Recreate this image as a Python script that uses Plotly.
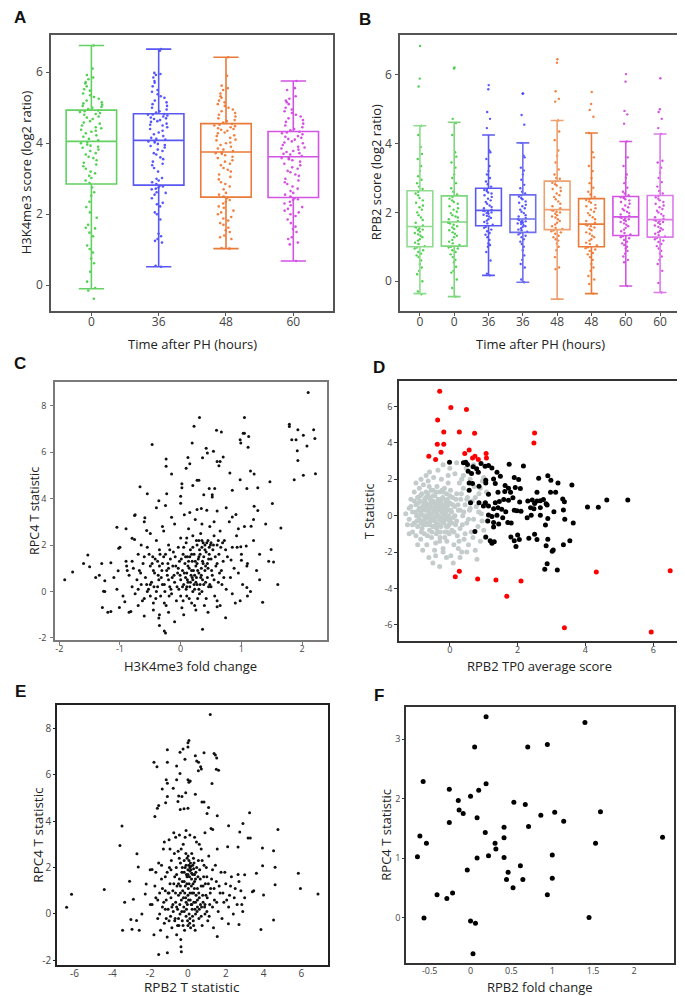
import plotly.graph_objects as go

# ---------------- Panel A data: H3K4me3 score by time ----------------
a_labels = ["0", "36", "48", "60"]
a_q1 = [2.85, 2.82, 2.48, 2.47]
a_median = [4.05, 4.08, 3.75, 3.62]
a_q3 = [4.93, 4.83, 4.55, 4.33]
a_low = [-0.1, 0.52, 1.03, 0.68]
a_high = [6.75, 6.65, 6.42, 5.75]
a_pts_0 = [-0.38, -0.15, -0.08, 0.1, 0.38, 0.62, 0.75, 0.92, 1.02, 1.12, 1.38, 1.48, 1.6, 1.62, 1.7, 1.9, 2.05, 2.2, 2.35, 2.52, 2.62, 2.75,
           2.88, 2.95, 3.02, 3.08, 3.15, 3.2, 3.28, 3.35, 3.4, 3.45, 3.52, 3.58, 3.62, 3.68, 3.72, 3.78, 3.82, 3.87, 3.9, 3.93, 3.96, 4.0, 4.03,
           4.08, 4.12, 4.18, 4.22, 4.28, 4.32, 4.35, 4.38, 4.42, 4.45, 4.5, 4.55, 4.58, 4.62, 4.68, 4.72, 4.75, 4.8, 4.82, 4.85, 4.88, 4.9, 4.92,
           4.96, 5.0, 5.02, 5.05, 5.08, 5.12, 5.15, 5.2, 5.25, 5.3, 5.35, 5.4, 5.48, 5.52, 5.6, 5.68, 5.72, 5.8, 5.85, 5.92, 6.1, 6.75]
a_pts_36 = [0.52, 0.55, 1.2, 1.25, 1.3, 1.38, 1.45, 1.85, 2.0, 2.05, 2.22, 2.28, 2.32, 2.45, 2.55, 2.6, 2.62, 2.7, 2.72, 2.75, 2.78, 2.8,
            2.85, 2.9, 2.95, 3.0, 3.02, 3.2, 3.3, 3.38, 3.42, 3.48, 3.55, 3.6, 3.68, 3.72, 3.78, 3.82, 3.88, 3.92, 3.95, 3.98, 4.02, 4.05, 4.06,
            4.1, 4.12, 4.15, 4.2, 4.25, 4.3, 4.35, 4.4, 4.45, 4.5, 4.52, 4.55, 4.6, 4.62, 4.65, 4.68, 4.7, 4.72, 4.75, 4.78, 4.8, 4.81, 4.82,
            4.86, 4.9, 4.95, 5.0, 5.05, 5.1, 5.15, 5.2, 5.28, 5.32, 5.38, 5.45, 5.5, 5.6, 5.7, 5.75, 5.85, 5.92, 5.95, 5.98, 6.6, 6.65]
a_pts_48 = [1.03, 1.05, 1.3, 1.35, 1.4, 1.5, 1.55, 1.62, 1.7, 1.75, 1.82, 1.88, 1.92, 2.0, 2.05, 2.1, 2.18, 2.22, 2.3, 2.35, 2.4, 2.45,
            2.5, 2.55, 2.6, 2.7, 2.78, 2.85, 2.9, 2.98, 3.05, 3.12, 3.2, 3.25, 3.3, 3.38, 3.42, 3.48, 3.52, 3.58, 3.62, 3.66, 3.7, 3.72, 3.74,
            3.78, 3.82, 3.85, 3.9, 3.95, 4.0, 4.02, 4.08, 4.1, 4.15, 4.2, 4.22, 4.28, 4.3, 4.35, 4.38, 4.4, 4.42, 4.45, 4.48, 4.5, 4.52, 4.54,
            4.58, 4.62, 4.65, 4.7, 4.75, 4.8, 4.85, 4.9, 4.95, 5.0, 5.05, 5.1, 5.15, 5.2, 5.28, 5.32, 5.4, 5.5, 5.55, 5.62, 5.9, 6.42]
a_pts_60 = [0.68, 1.15, 1.2, 1.3, 1.35, 1.5, 1.58, 1.65, 1.75, 1.85, 1.95, 2.0, 2.05, 2.1, 2.15, 2.2, 2.25, 2.3, 2.35, 2.4, 2.42, 2.45,
            2.5, 2.55, 2.6, 2.65, 2.72, 2.78, 2.85, 2.9, 2.95, 3.0, 3.08, 3.12, 3.18, 3.22, 3.28, 3.32, 3.38, 3.42, 3.48, 3.52, 3.55, 3.58, 3.6,
            3.64, 3.68, 3.7, 3.72, 3.75, 3.78, 3.82, 3.85, 3.88, 3.9, 3.95, 4.0, 4.02, 4.05, 4.1, 4.12, 4.15, 4.18, 4.2, 4.25, 4.28, 4.3, 4.32,
            4.36, 4.4, 4.45, 4.5, 4.55, 4.6, 4.65, 4.7, 4.75, 4.8, 4.85, 4.9, 4.95, 5.0, 5.1, 5.15, 5.2, 5.25, 5.32, 5.5, 5.55, 5.75]

# ---------------- Panel B data: RPB2 score by time (two replicates) ----------------
b_labels = ["0", "0", "36", "36", "48", "48", "60", "60"]
b_q1 = [1.0, 1.02, 1.61, 1.42, 1.5, 1.0, 1.33, 1.28]
b_median = [1.59, 1.72, 2.06, 1.81, 2.08, 1.66, 1.87, 1.79]
b_q3 = [2.63, 2.48, 2.7, 2.51, 2.91, 2.4, 2.46, 2.49]
b_low = [-0.36, -0.45, 0.17, -0.03, -0.52, -0.36, -0.14, -0.33]
b_high = [4.52, 4.62, 4.25, 4.02, 4.67, 4.31, 4.06, 4.28]
b_pts_1 = [-0.38, -0.3, 0.0, 0.2, 0.3, 0.4, 0.5, 0.6, 0.7, 0.75, 0.8, 0.85, 0.9, 0.95, 0.98,
           1.02, 1.08, 1.12, 1.18, 1.22, 1.28, 1.32, 1.36, 1.4, 1.44, 1.48, 1.5, 1.53, 1.56, 1.58,
           1.62, 1.7, 1.78, 1.85, 1.92, 2.0, 2.08, 2.15, 2.2, 2.28, 2.35, 2.42, 2.5, 2.55, 2.6,
           2.68, 2.75, 2.85, 2.95, 3.05, 3.2, 3.35, 3.55, 3.7, 3.9, 4.25, 4.52, 5.66, 5.89, 6.84]
b_pts_2 = [-0.45, -0.2, 0.05, 0.25, 0.3, 0.42, 0.55, 0.62, 0.7, 0.78, 0.85, 0.9, 0.95, 0.98, 1.0,
           1.05, 1.1, 1.15, 1.2, 1.28, 1.32, 1.38, 1.42, 1.48, 1.52, 1.56, 1.6, 1.64, 1.68, 1.7,
           1.75, 1.8, 1.85, 1.88, 1.92, 1.98, 2.02, 2.08, 2.12, 2.18, 2.25, 2.3, 2.35, 2.4, 2.45,
           2.52, 2.6, 2.7, 2.85, 3.0, 3.1, 3.3, 3.45, 3.62, 3.75, 4.25, 4.6, 4.72, 6.18, 6.21]
b_pts_3 = [0.17, 0.22, 0.6, 0.85, 1.0, 1.05, 1.1, 1.2, 1.28, 1.35, 1.4, 1.45, 1.5, 1.55, 1.58,
           1.64, 1.68, 1.72, 1.76, 1.8, 1.84, 1.88, 1.9, 1.93, 1.96, 1.98, 2.0, 2.02, 2.04, 2.05,
           2.08, 2.12, 2.16, 2.2, 2.25, 2.3, 2.35, 2.4, 2.45, 2.5, 2.55, 2.58, 2.62, 2.65, 2.68,
           2.75, 2.82, 2.9, 3.0, 3.1, 3.2, 3.35, 3.55, 3.75, 3.8, 4.45, 4.72, 4.92, 5.58, 5.7]
b_pts_4 = [-0.03, 0.05, 0.4, 0.5, 0.62, 0.75, 0.9, 1.0, 1.08, 1.15, 1.22, 1.28, 1.32, 1.36, 1.4,
           1.44, 1.48, 1.5, 1.54, 1.58, 1.6, 1.63, 1.66, 1.68, 1.7, 1.72, 1.74, 1.76, 1.78, 1.8,
           1.84, 1.88, 1.92, 1.98, 2.02, 2.08, 2.12, 2.18, 2.22, 2.28, 2.32, 2.38, 2.42, 2.46, 2.5,
           2.55, 2.6, 2.7, 2.8, 2.95, 3.1, 3.22, 3.3, 3.6, 3.65, 4.02, 4.55, 4.83, 5.45, 5.46]
b_pts_5 = [-0.52, 0.35, 0.4, 0.7, 0.9, 1.0, 1.1, 1.18, 1.22, 1.28, 1.32, 1.38, 1.42, 1.45, 1.48,
           1.52, 1.55, 1.6, 1.65, 1.7, 1.75, 1.8, 1.85, 1.88, 1.92, 1.96, 2.0, 2.02, 2.05, 2.06,
           2.12, 2.18, 2.25, 2.32, 2.38, 2.45, 2.5, 2.55, 2.62, 2.68, 2.72, 2.78, 2.82, 2.86, 2.9,
           2.98, 3.0, 3.1, 3.25, 3.45, 3.65, 3.8, 4.1, 4.35, 4.67, 5.22, 5.3, 5.52, 6.35, 6.45]
b_pts_6 = [-0.36, -0.08, 0.05, 0.15, 0.3, 0.4, 0.5, 0.62, 0.7, 0.78, 0.82, 0.88, 0.92, 0.96, 0.99,
           1.04, 1.08, 1.12, 1.18, 1.22, 1.28, 1.32, 1.38, 1.42, 1.48, 1.52, 1.56, 1.6, 1.62, 1.65,
           1.7, 1.75, 1.8, 1.86, 1.92, 1.98, 2.02, 2.08, 2.12, 2.18, 2.22, 2.28, 2.32, 2.36, 2.39,
           2.45, 2.52, 2.6, 2.72, 2.85, 3.0, 3.2, 3.35, 3.6, 3.75, 4.31, 4.78, 4.98, 5.15, 5.5]
b_pts_7 = [-0.14, 0.55, 0.62, 0.72, 0.8, 0.88, 0.95, 1.0, 1.05, 1.1, 1.15, 1.2, 1.25, 1.28, 1.31,
           1.36, 1.4, 1.45, 1.5, 1.55, 1.6, 1.64, 1.68, 1.72, 1.75, 1.78, 1.8, 1.82, 1.84, 1.86,
           1.9, 1.94, 1.98, 2.02, 2.06, 2.1, 2.15, 2.2, 2.25, 2.3, 2.35, 2.38, 2.42, 2.44, 2.45,
           2.5, 2.55, 2.6, 2.72, 2.85, 3.0, 3.1, 3.35, 3.6, 4.06, 4.58, 4.85, 4.95, 5.8, 6.02]
b_pts_8 = [-0.33, -0.05, 0.3, 0.5, 0.62, 0.72, 0.8, 0.88, 0.95, 1.02, 1.08, 1.14, 1.18, 1.22, 1.26,
           1.3, 1.34, 1.38, 1.42, 1.46, 1.5, 1.54, 1.58, 1.62, 1.66, 1.7, 1.72, 1.74, 1.76, 1.78,
           1.82, 1.86, 1.9, 1.95, 2.0, 2.05, 2.1, 2.15, 2.2, 2.25, 2.3, 2.35, 2.4, 2.44, 2.48,
           2.55, 2.62, 2.75, 2.88, 3.0, 3.15, 3.3, 3.45, 3.5, 4.28, 4.45, 4.72, 4.92, 5.0, 5.9]

# ---------------- Panel C data: H3K4me3 fold change vs RPC4 T statistic ----------------
c_pts = [
    (2.10, 8.57), (0.31, 7.49), (1.05, 7.49), (0.22, 7.11), (1.79, 7.20), (1.79, 7.10), (1.93, 6.96), (2.19, 6.96),
    (0.59, 6.94), (0.67, 6.87), (1.03, 6.81), (1.05, 6.81), (1.12, 6.67), (2.02, 6.73), (2.21, 6.59), (0.98, 6.53),
    (0.99, 6.39), (1.83, 6.53), (1.90, 6.53), (0.19, 6.39), (-0.47, 6.33), (1.11, 6.21), (2.08, 6.27), (0.42, 6.17),
    (1.92, 6.06), (0.44, 5.96), (0.54, 6.04), (0.12, 5.77), (-0.24, 5.70), (0.36, 5.76), (0.70, 5.79), (0.60, 5.60),
    (0.65, 5.60), (1.93, 5.64), (-0.24, 5.39), (0.63, 5.41), (0.15, 5.50), (0.09, 5.31), (-0.15, 5.06), (0.81, 5.10),
    (1.15, 5.19), (1.21, 5.06), (2.02, 5.00), (2.22, 5.07), (1.87, 4.81), (0.27, 4.79), (0.30, 4.79), (0.98, 4.81),
    (1.47, 4.73), (0.02, 4.64), (0.20, 4.56), (0.47, 4.43), (0.56, 4.43), (1.09, 4.43), (1.27, 4.47), (-0.67, 4.51),
    (0.85, 4.36), (0.52, 4.17), (0.02, 4.47), (-0.55, 4.21), (-0.23, 4.21), (0.38, 4.16), (0.52, 4.07), (0.0, 4.10),
    (-0.36, 3.91), (1.21, 3.67), (1.27, 3.49), (1.51, 3.79), (0.34, 3.57), (0.27, 3.53), (0.60, 3.46), (0.91, 3.31),
    (0.85, 3.21), (-0.76, 3.27), (-0.59, 3.17), (1.16, 2.81), (1.65, 2.73), (-1.05, 2.76), (-0.56, 2.63), (-0.76, 2.24),
    (-0.80, 2.29), (-1.02, 1.86), (0.93, 1.90), (0.99, 1.93), (-1.53, 1.57), (-1.50, 1.06), (-1.78, 0.84), (-1.91, 0.50),
    (-1.34, 0.70), (-1.15, 1.24), (-1.03, 0.89), (-0.89, 1.10), (-1.25, 0.46), (-1.27, 0.01), (-1.29, -0.69), (-1.15, -0.86),
    (-1.01, -0.69), (-0.92, -0.44), (-0.82, -0.86), (-0.60, -1.06), (-0.36, -1.14), (-0.35, -1.47), (-0.27, -1.70), (-0.25, -1.79),
    (0.36, -1.63), (0.60, -0.66), (0.74, -1.13), (0.98, -0.40), (1.09, 0.17), (1.35, -0.47), (1.49, 1.81), (1.53, 1.27),
    (1.09, 1.10), (1.0, 1.34), (0.83, 1.36), (1.08, 1.96),
    (-0.9, 1.3), (-0.85, 0.7), (-0.8, 0.2), (-0.78, 1.0), (-0.75, -0.1), (-0.72, 0.5), (-0.7, 1.6), (-0.68, 0.9),
    (-0.65, 0.3), (-0.62, 1.2), (-0.6, -0.3), (-0.58, 0.6), (-0.55, 1.9), (-0.53, 0.1), (-0.5, 1.1), (-0.48, 0.4),
    (-0.46, 1.5), (-0.45, -0.5), (-0.43, 0.8), (-0.4, 2.2), (-0.4, 0.0), (-0.38, 1.3), (-0.36, 0.5), (-0.35, 1.8),
    (-0.33, -0.2), (-0.31, 0.9), (-0.3, 1.2), (-0.28, 2.6), (-0.27, 0.3), (-0.25, 1.6), (-0.24, -0.6), (-0.22, 0.7),
    (-0.2, 1.0), (-0.2, 2.0), (-0.18, 0.2), (-0.17, 1.4), (-0.15, -0.1), (-0.14, 0.6), (-0.12, 1.7), (-0.1, 0.4),
    (-0.1, 2.9), (-0.08, 1.1), (-0.07, -0.4), (-0.05, 0.8), (-0.04, 1.9), (-0.03, 0.1), (-0.02, 1.3), (0.0, 0.5),
    (0.0, 2.3), (0.02, -0.7), (0.03, 0.9), (0.04, 1.6), (0.05, 0.3), (0.06, 3.3), (0.07, 1.2), (0.08, 0.6),
    (0.09, 2.1), (0.1, -0.2), (0.1, 0.8), (0.11, 1.5), (0.12, 0.4), (0.13, 2.7), (0.14, 1.0), (0.15, 0.2),
    (0.16, 1.8), (0.17, 0.7), (0.18, -0.5), (0.19, 1.3), (0.2, 0.5), (0.2, 2.4), (0.21, 0.9), (0.22, 1.6),
    (0.23, 0.1), (0.24, 3.1), (0.25, 1.1), (0.26, 0.6), (0.27, 2.0), (0.28, -0.3), (0.29, 1.4), (0.3, 0.8),
    (0.3, 2.2), (0.31, 1.8), (0.32, 0.3), (0.33, 2.5), (0.34, 1.0), (0.35, 1.9), (0.36, 0.5), (0.37, 2.1),
    (0.38, 1.5), (0.39, -0.6), (0.4, 2.0), (0.4, 0.9), (0.42, 1.7), (0.43, 3.5), (0.44, 1.2), (0.45, 2.2),
    (0.46, 0.2), (0.47, 1.9), (0.48, 2.8), (0.5, 1.4), (0.5, 2.1), (0.52, 0.7), (0.53, 1.8), (0.55, 2.4),
    (0.56, -0.2), (0.58, 1.1), (0.6, 2.0), (0.62, 0.4), (0.63, 1.6), (0.65, 2.6), (0.67, 0.9), (0.7, 1.3),
    (0.72, 2.2), (0.75, 0.1), (0.77, 1.5), (0.8, 3.0), (0.82, 0.6), (0.85, 1.9), (0.88, 1.0), (0.9, -0.5),
    (0.92, 2.4), (0.95, 0.8), (1.0, 1.6), (1.02, 0.3), (1.05, 2.8), (1.1, 1.2), (1.15, 0.0), (1.2, 2.2),
    (1.25, 0.9), (1.3, 1.6), (1.4, 2.9), (1.45, 1.3),
    (-1.6, 1.2), (-1.4, 0.6), (-1.3, 1.2), (-1.25, 0.0), (-1.2, -0.9), (-1.1, 0.6), (-1.05, 0.1), (-1.0, 1.9),
    (-0.95, -0.2), (-0.9, 2.7), (-0.88, 0.9), (-0.85, -0.9), (-0.8, 1.3), (-0.75, 3.3), (-0.7, -0.6), (-0.65, 2.0),
    (-0.6, 3.0), (-0.55, 0.0), (-0.5, 2.5), (-0.45, -0.8), (-0.4, 3.6), (-0.35, -1.0), (-0.3, 2.8), (-0.25, 3.7),
    (-0.2, -0.9), (-0.15, 3.2), (-0.1, -1.3), (0.0, 3.8), (0.05, -1.0), (0.15, 3.4), (0.25, -0.8), (0.35, 2.9),
    (0.45, -0.9), (0.55, 3.0), (0.65, -0.6), (0.75, 3.6), (0.85, -0.1), (0.95, 2.7), (1.1, -0.2), (1.2, 3.1),
    (1.3, 0.5), (1.6, 0.3),
    (0.05, 1.9), (0.1, 2.3), (0.12, 1.1), (0.15, 1.5), (0.18, 0.9), (0.2, 1.9), (0.22, 0.3), (0.24, 1.3),
    (0.26, 2.2), (0.28, 0.9), (0.3, 1.5), (0.33, 0.6), (0.35, 2.2), (0.37, 1.2), (0.4, 1.8), (0.41, 0.4),
    (0.43, 2.1), (0.45, 1.0), (0.47, 1.6), (0.49, 2.0), (0.51, 0.9), (0.54, 2.0), (0.57, 1.5), (0.6, 1.2),
    (0.62, 2.2), (0.64, 0.8), (0.66, 1.9), (0.69, 2.1), (0.71, 0.6), (0.74, 1.8),
    (-0.5, 0.3), (-0.45, 0.9), (-0.42, 1.4), (-0.38, 0.2), (-0.35, 1.1), (-0.32, 0.6), (-0.28, 1.5), (-0.26, 0.0),
    (-0.23, 0.9), (-0.2, 0.5), (-0.18, 1.8), (-0.16, 0.1), (-0.13, 1.1), (-0.11, 0.7), (-0.09, 1.5), (-0.06, 0.2),
    (-0.04, 1.0), (-0.01, 0.7), (0.01, 1.4), (0.03, 0.2), (0.06, 0.8), (0.08, 1.5), (0.09, 0.1), (0.11, 0.5),
    (0.13, 1.3), (0.16, 0.4), (0.18, 1.6), (0.2, 0.0), (0.23, 0.7), (0.25, 0.4), (0.27, 1.2), (0.3, 0.1),
    (0.32, 1.6), (0.34, 0.7), (0.36, 1.3), (0.38, 0.3), (0.41, 1.1), (0.44, 0.6), (0.46, 1.4), (0.48, 0.3),
    (-0.7, 0.1), (-0.66, 0.8), (-0.63, -0.4), (-0.6, 1.5), (-0.56, 0.3), (-0.52, 1.6), (-0.5, -0.2), (-0.47, 1.2),
    (-0.44, 0.2), (-0.41, -0.3), (-0.37, 0.7), (-0.34, 1.6), (-0.3, 0.3), (-0.27, -0.5), (-0.21, 1.2), (-0.19, -0.2),
    (0.0, -0.2), (0.04, -0.4), (0.1, 0.2), (0.14, -0.3), (0.19, 0.6), (0.23, -0.6), (0.27, 0.3), (0.31, -0.1),
    (0.35, 0.0), (0.42, -0.3), (0.5, 0.2), (0.55, 0.5), (0.6, -0.4), (0.68, 0.3),
]

# ---------------- Panel D data: RPB2 TP0 average score vs T statistic ----------------
d_red = [
    (-0.30, 6.83), (0.03, 5.94), (0.49, 5.83), (-0.36, 5.26), (-0.18, 4.59), (0.28, 4.59), (0.73, 4.52), (2.50, 4.54),
    (2.48, 3.99), (-0.37, 3.92), (-0.18, 3.92), (-0.26, 3.48), (0.57, 3.61), (0.44, 3.41), (-0.62, 3.26), (-0.42, 3.08),
    (0.67, 3.17), (0.74, 3.26), (0.84, 3.08), (1.07, 3.41), (1.08, 3.17), (0.28, -3.06), (0.16, -3.35), (0.82, -3.48),
    (1.36, -3.53), (2.10, -3.59), (1.68, -4.43), (4.32, -3.10), (6.50, -3.02), (3.38, -6.16), (5.94, -6.39),
]
d_black = [
    (-0.01, 2.93), (0.40, 2.90), (0.47, 2.93), (0.52, 2.81), (0.69, 2.68), (0.79, 2.57), (0.92, 2.86), (1.04, 2.71),
    (1.14, 2.75), (1.24, 2.62), (1.39, 2.39), (1.75, 2.82), (2.17, 2.73), (0.54, 2.44), (0.64, 2.31), (0.84, 2.39),
    (1.06, 1.95), (1.29, 2.02), (1.49, 2.17), (1.90, 2.09), (2.03, 1.99), (2.62, 2.06), (2.89, 2.19), (2.98, 1.95),
    (3.19, 1.80), (3.60, 1.69), (0.57, 1.80), (0.67, 1.77), (0.86, 1.62), (1.06, 1.80), (1.34, 1.77), (1.63, 1.66),
    (1.73, 1.51), (1.93, 1.55), (2.08, 1.49), (0.57, 1.40), (1.14, 1.17), (1.42, 1.29), (1.62, 1.33), (1.79, 1.29),
    (1.86, 0.98), (2.57, 1.28), (2.97, 1.29), (3.12, 1.28), (0.99, 0.53), (1.05, 0.71), (1.34, 0.71), (1.46, 0.78),
    (1.59, 0.89), (1.73, 0.84), (2.06, 0.75), (2.30, 0.80), (2.43, 0.86), (2.50, 0.67), (2.57, 0.80), (2.67, 0.82),
    (2.76, 0.89), (2.84, 0.66), (3.33, 0.91), (3.38, 0.77), (4.06, 0.47), (4.38, 0.46), (4.63, 0.86), (5.25, 0.86),
    (0.61, 0.71), (0.86, 0.71), (1.14, 0.53), (1.29, 0.38), (1.42, 0.44), (1.53, 0.35), (1.65, 0.22), (1.90, 0.29),
    (1.98, 0.27), (2.10, 0.24), (2.38, 0.44), (2.48, 0.38), (2.67, 0.44), (2.87, 0.58), (3.07, 0.22), (3.35, 0.31),
    (1.14, 0.04), (1.24, -0.05), (1.39, 0.02), (1.56, -0.11), (2.28, -0.11), (2.40, 0.02), (2.67, 0.02), (2.89, -0.15),
    (3.39, -0.20), (3.64, -0.40), (1.12, -0.29), (1.29, -0.38), (1.44, -0.46), (1.71, -0.38), (1.81, -0.40), (2.82, -0.51),
    (0.74, -0.87), (1.29, -0.62), (1.06, -1.17), (1.19, -1.38), (1.24, -1.51), (1.31, -1.44), (1.80, -1.17), (1.90, -1.38),
    (1.95, -1.69), (2.05, -1.31), (2.00, -1.06), (2.33, -1.24), (2.50, -1.02), (2.57, -1.31), (2.84, -1.66), (2.89, -1.29),
    (3.02, -1.95), (3.05, -1.88), (3.35, -1.60), (3.54, -1.38), (2.87, -2.64), (2.80, -2.95), (3.17, -2.99),
]
d_grey = [
    (-1.3, 0.1), (-1.25, -0.5), (-1.2, 0.4), (-1.2, -0.2), (-1.15, 0.9), (-1.1, -0.9), (-1.1, 0.2), (-1.05, 1.3),
    (-1.05, -0.4), (-1.0, 0.6), (-1.0, -1.1), (-0.98, 0.0), (-0.95, 1.0), (-0.95, -0.6), (-0.92, 0.3), (-0.9, 1.5),
    (-0.9, -0.2), (-0.88, 0.8), (-0.86, -1.3), (-0.85, 0.1), (-0.83, 1.2), (-0.82, -0.7), (-0.8, 0.5), (-0.8, -0.3),
    (-0.78, 1.7), (-0.76, 0.0), (-0.75, -1.0), (-0.74, 0.9), (-0.72, 0.3), (-0.7, -0.5), (-0.7, 1.3), (-0.68, -1.6),
    (-0.67, 0.6), (-0.65, -0.1), (-0.64, 1.9), (-0.62, 0.2), (-0.6, -0.8), (-0.6, 1.0), (-0.58, 0.5), (-0.57, -0.3),
    (-0.55, 1.4), (-0.54, -1.2), (-0.52, 0.1), (-0.5, 0.8), (-0.5, -0.6), (-0.48, 2.1), (-0.47, 0.3), (-0.45, -0.1),
    (-0.44, 1.1), (-0.42, -1.5), (-0.41, 0.6), (-0.4, -0.4), (-0.38, 1.6), (-0.37, 0.0), (-0.35, -0.9), (-0.34, 0.9),
    (-0.32, 0.4), (-0.31, -0.2), (-0.3, 1.3), (-0.29, -1.2), (-0.27, 0.7), (-0.26, -0.6), (-0.25, 2.0), (-0.24, 0.2),
    (-0.22, -0.1), (-0.21, 1.0), (-0.2, -1.8), (-0.19, 0.5), (-0.18, -0.4), (-0.16, 1.5), (-0.15, 0.1), (-0.14, -0.9),
    (-0.12, 0.8), (-0.11, -0.2), (-0.1, 1.2), (-0.09, -1.4), (-0.08, 0.4), (-0.06, -0.6), (-0.05, 1.8), (-0.04, 0.0),
    (-0.02, -1.0), (0.0, 0.7), (0.0, -0.3), (0.02, 1.4), (0.03, -2.2), (0.05, 0.2), (0.06, -0.8), (0.08, 1.0),
    (0.1, -0.1), (0.12, -1.6), (0.14, 0.5), (0.15, 2.3), (0.17, -0.5), (0.2, 1.2), (0.22, -1.1), (0.25, 0.3),
    (0.28, 1.8), (0.3, -0.7), (0.32, 0.9), (0.35, -2.0), (0.38, 0.0), (0.4, 1.5), (0.42, -1.3), (0.45, 0.6),
    (0.48, 2.6), (0.5, -0.4), (0.52, 1.0), (0.55, -1.6), (0.58, 0.3), (0.6, 2.0), (0.63, -0.9), (0.66, 0.8),
    (0.7, -0.2), (0.72, 1.6), (0.75, -1.9), (0.78, 0.5), (0.8, 2.4), (0.83, -0.6), (0.86, 1.2), (0.9, -1.4),
    (0.93, 0.1), (0.96, 1.9), (1.0, -0.8), (1.02, 0.7), (1.05, -1.2), (1.08, 1.3), (1.1, -0.3),
    (-1.2, -1.0), (-1.0, 1.8), (-0.95, -1.6), (-0.85, 2.0), (-0.8, -1.9), (-0.7, 2.2), (-0.62, -2.3), (-0.5, -2.6),
    (-0.42, -2.2), (-0.35, 2.5), (-0.3, -2.8), (-0.2, 2.8), (-0.1, -2.3), (0.0, 2.6), (0.1, -2.6), (0.2, 2.9),
    (0.3, -2.3), (0.4, 2.2), (0.5, -2.0), (0.7, 2.8), (0.8, -2.4), (0.65, 2.7), (0.9, 1.5), (1.0, 2.1),
    (-0.75, 0.4), (-0.66, -0.4), (-0.58, 0.9), (-0.52, -0.2), (-0.46, 0.7), (-0.4, 0.2), (-0.33, -0.5), (-0.28, 0.4),
    (-0.23, 1.4), (-0.17, -0.3), (-0.13, 0.2), (-0.07, 0.9), (-0.03, -0.5), (-0.6, 0.0), (-0.55, 0.4), (-0.45, -0.3),
    (-0.35, 0.3), (-0.25, -0.3), (-0.15, 0.6), (-0.05, 0.3), (-0.85, -0.4), (-0.65, 1.2), (-0.5, 1.4), (-0.4, -1.0),
    (-0.3, -1.4), (-0.2, 0.3), (-0.1, -0.6), (-0.7, 0.7), (-0.9, 0.4),
    (-1.15, 0.5), (-1.1, -0.5), (-1.05, 0.8), (-1.0, 0.2), (-0.97, -0.3), (-0.93, 0.7), (-0.9, 0.0), (-0.87, 1.1),
    (-0.84, -0.9), (-0.82, 0.3), (-0.79, -0.5), (-0.77, 0.7), (-0.73, -0.2), (-0.71, 1.0), (-0.69, 0.0), (-0.66, -1.1),
    (-0.63, 0.4), (-0.61, 1.6), (-0.59, -0.5), (-0.56, 0.7), (-0.53, -0.9), (-0.51, 0.4), (-0.49, 1.1), (-0.46, -0.6),
    (-0.43, 0.5), (-0.4, 1.3), (-0.39, -0.7), (-0.36, 0.8), (-0.33, 0.0), (-0.3, 0.6), (-0.28, -0.9), (-0.25, 0.9),
    (-0.23, -0.3), (-0.2, 1.3), (-0.18, 0.0), (-0.15, -1.2), (-0.13, 0.5), (-0.1, 0.0), (-0.08, -0.9), (-0.05, 0.6),
    (-0.03, -0.2), (0.0, 1.1), (0.03, 0.3), (0.06, -0.4), (0.09, 0.6), (0.12, -0.9), (0.15, 0.0), (0.18, 0.9),
    (0.2, -0.3), (0.24, 0.6), (0.27, -1.4), (0.3, 0.3), (0.34, 1.2), (0.37, -0.5), (0.41, 0.2), (0.45, -1.0),
    (0.5, 0.9), (0.55, -0.2), (0.6, 0.4), (0.68, -1.2), (0.75, 1.0), (0.85, 0.2), (0.95, -0.3), (-0.6, 2.4),
    (-0.45, -1.9), (-0.2, -2.0), (0.25, -1.8), (-0.05, 2.2), (0.35, 2.0),
]

# ---------------- Panel E data: RPB2 T statistic vs RPC4 T statistic ----------------
e_pts = [
    (1.18, 8.60), (0.05, 7.48), (0.0, 7.38), (0.0, 7.20), (-1.09, 7.08), (-0.26, 7.11), (-0.42, 6.97), (0.85, 6.95),
    (1.38, 6.92), (1.45, 6.85), (0.39, 6.82), (-0.16, 6.67), (1.52, 6.72), (-1.8, 6.54), (-1.64, 6.34), (-1.09, 6.54),
    (0.46, 6.59), (0.56, 6.54), (0.67, 6.34), (-0.6, 6.38), (0.71, 6.25), (1.5, 6.24), (1.62, 6.19), (0.55, 6.17),
    (-0.42, 6.05), (-0.6, 5.79), (-1.15, 5.79), (0.0, 5.78), (0.12, 5.73), (0.05, 5.68), (-1.09, 5.63), (1.27, 5.62),
    (-0.78, 5.42), (-1.36, 5.39), (-0.12, 5.22), (0.39, 5.16), (-1.09, 5.06), (-0.49, 5.08), (-0.32, 5.06), (-0.53, 4.85),
    (0.74, 4.82), (0.85, 4.82), (-1.18, 4.79), (-1.55, 4.67), (-1.62, 4.56), (-0.41, 4.50), (-0.21, 4.53), (0.0, 4.56),
    (1.09, 4.59), (1.01, 4.33), (-1.75, 4.20), (1.55, 4.23), (3.26, 4.36), (-3.49, 3.79), (2.15, 3.80), (2.91, 3.90),
    (4.76, 3.64), (1.22, 3.68), (1.31, 3.64), (-3.6, 2.95), (-2.7, 2.59), (-2.63, 2.02), (-1.9, 1.91), (-4.43, 1.05),
    (-6.16, 0.85), (-6.42, 0.29), (-3.35, 0.5), (-3.46, -0.70), (-3.02, -0.24), (-2.96, -0.66), (-2.72, -0.29), (-2.58, -0.70),
    (-2.44, 0.0), (-3.09, 1.41), (-2.89, 0.63), (-2.26, 0.86), (-2.21, 1.29), (-1.99, 0.4), (-1.55, -1.75), (-1.09, -1.68),
    (-0.37, -1.42), (-0.35, -1.63), (1.55, -0.97), (2.7, -0.46), (2.14, -0.43), (3.86, -0.67), (4.53, -0.26), (4.53, 2.72),
    (4.61, 2.01), (4.61, 1.26), (5.84, 1.75), (5.95, 1.09), (6.88, 0.86), (3.95, 2.08), (4.0, 0.82), (3.62, 1.75),
    (3.48, 1.0), (3.41, 0.95), (3.94, 2.84), (3.30, 3.27), (3.18, 3.27), (2.74, 3.53), (2.65, 2.88), (3.0, 1.69),
    (-2.0, 1.9), (-1.9, 0.4), (-1.8, -0.9), (-1.75, 1.2), (-1.7, 0.7), (-1.6, -0.2), (-1.55, 2.2), (-1.5, 0.9),
    (-1.5, 0.0), (-1.45, -0.7), (-1.4, 1.5), (-1.35, 0.3), (-1.3, 2.8), (-1.25, -0.4), (-1.2, 1.0), (-1.15, 0.6),
    (-1.1, -1.0), (-1.1, 1.8), (-1.05, 0.2), (-1.0, 3.2), (-1.0, -0.3), (-0.95, 1.3), (-0.9, 0.7), (-0.88, 2.3),
    (-0.85, -0.6), (-0.8, 1.0), (-0.78, 0.1), (-0.75, 3.5), (-0.7, 1.6), (-0.68, -0.2), (-0.65, 0.5), (-0.62, 2.0),
    (-0.6, -0.9), (-0.58, 1.2), (-0.55, 0.2), (-0.52, 2.7), (-0.5, 0.8), (-0.48, -0.5), (-0.45, 1.5), (-0.42, 0.0),
    (-0.4, 2.2), (-0.38, -1.1), (-0.35, 0.6), (-0.32, 1.8), (-0.3, -0.3), (-0.28, 1.0), (-0.25, 3.0), (-0.22, 0.3),
    (-0.2, 1.4), (-0.18, -0.7), (-0.15, 2.0), (-0.12, 0.7), (-0.1, -0.1), (-0.08, 1.7), (-0.05, 2.4), (-0.03, 0.4),
    (0.0, 1.9), (0.0, -0.5), (0.02, 1.1), (0.04, 2.1), (0.06, 0.0), (0.08, 1.6), (0.1, 2.0), (0.12, 0.6),
    (0.14, -0.6), (0.16, 1.9), (0.18, 1.2), (0.2, 2.6), (0.22, 0.2), (0.25, 1.7), (0.28, -0.3), (0.3, 0.9),
    (0.32, 2.2), (0.35, 1.4), (0.38, -0.7), (0.4, 0.5), (0.42, 1.8), (0.45, 3.1), (0.48, 0.1), (0.5, 1.1),
    (0.55, 2.3), (0.58, -0.2), (0.6, 0.7), (0.65, 1.5), (0.7, 2.8), (0.72, 0.3), (0.75, -0.5), (0.8, 1.2),
    (0.85, 2.1), (0.9, 0.0), (0.95, 0.8), (1.0, 1.6), (1.05, -0.3), (1.1, 2.5), (1.15, 0.4), (1.2, 1.1),
    (1.3, 1.9), (1.35, -0.6), (1.4, 0.6), (1.5, 1.4), (1.55, 2.8), (1.6, 0.1), (1.7, 0.9), (1.75, 1.8),
    (1.8, -0.2), (1.9, 0.5), (2.0, 1.3), (2.1, 2.9), (2.15, 0.3), (2.2, 0.8), (2.3, 1.6), (2.4, 0.0),
    (2.5, 1.1), (2.6, 0.4), (2.7, 1.4), (2.8, 1.0), (2.9, 0.1), (3.0, 0.7),
    (-0.3, 2.0), (-0.2, 1.8), (-0.1, 2.1), (0.0, 1.7), (0.1, 1.85), (0.15, 2.05), (0.2, 1.75), (0.25, 2.1),
    (0.3, 1.95), (0.05, 2.3), (-0.05, 1.6), (0.35, 1.7),
    (-0.6, 0.3), (-0.4, 0.9), (-0.2, 0.1), (0.0, 0.8), (0.2, 0.4), (0.4, 0.0), (0.6, 0.2), (0.8, 0.5),
    (1.0, 0.1), (-0.8, 0.4), (-1.0, 0.9), (-1.2, 0.2), (0.3, -0.5), (0.1, -0.2), (-0.1, 0.5), (0.5, 0.6),
    (0.7, -0.1), (0.9, 0.4), (-0.5, -0.2), (-0.7, -0.3),
    (-0.9, 1.9), (-0.85, 0.3), (-0.75, 1.3), (-0.72, 2.6), (-0.66, 0.9), (-0.6, 1.7), (-0.55, -0.5), (-0.5, 1.3),
    (-0.46, 2.4), (-0.43, 0.4), (-0.4, 1.2), (-0.36, 2.8), (-0.33, 0.1), (-0.3, 1.4), (-0.26, -0.5), (-0.24, 0.7),
    (-0.2, 2.3), (-0.17, 0.9), (-0.14, 1.2), (-0.11, 2.6), (-0.08, 0.2), (-0.06, 1.3), (-0.02, -0.3), (0.01, 2.5),
    (0.03, 0.6), (0.06, 1.3), (0.09, -0.4), (0.11, 0.9), (0.13, 2.2), (0.17, 0.4), (0.19, 1.5), (0.22, 0.9),
    (0.24, -0.1), (0.27, 1.3), (0.29, 2.4), (0.31, 0.5), (0.34, 1.1), (0.37, 0.2), (0.4, 1.5), (0.43, 0.8),
    (0.46, 2.0), (0.5, 0.3), (0.53, 1.6), (0.57, 0.9), (0.62, 1.9), (0.66, 0.4), (0.7, 1.2), (0.75, 2.3),
    (0.78, 0.8), (0.83, 1.6), (0.88, 0.3), (0.92, 1.3), (0.97, 2.0), (1.02, 0.7), (1.08, 1.3), (1.12, -0.1),
    (1.18, 0.9), (1.25, 1.5), (1.3, 0.3), (1.38, 1.1), (1.45, 2.1), (1.52, 0.5), (1.65, 1.2), (1.85, 0.9),
    (1.95, 1.8), (2.05, 0.6), (2.25, 1.2), (2.45, 0.7), (2.65, 1.7), (2.85, 0.4),
    (-1.35, 1.1), (-1.28, 0.5), (-1.2, 1.6), (-1.15, -0.2), (-1.05, 0.9), (-0.98, 2.0), (-0.92, -0.1), (-1.6, 0.6),
    (-1.7, 1.8), (-1.4, 2.1), (-1.25, 3.1), (-0.95, 2.8), (-0.65, 3.3), (-0.45, 3.4), (-0.15, 3.3), (0.1, 3.4),
    (0.35, 3.3), (0.6, 3.0), (0.9, 3.5), (-0.1, 3.6),
]

# ---------------- Panel F data: RPB2 fold change vs RPC4 T statistic ----------------
f_pts = [
    (0.19, 3.38), (1.40, 3.28), (0.05, 2.87), (0.70, 2.87), (0.94, 2.91), (-0.58, 2.29), (0.19, 2.25), (-0.26, 2.16),
    (0.10, 2.14), (0.0, 2.04), (-0.15, 1.97), (0.53, 1.94), (0.67, 1.90), (-0.14, 1.81), (-0.09, 1.75), (1.59, 1.78),
    (1.03, 1.77), (0.86, 1.72), (0.08, 1.68), (1.14, 1.62), (-0.26, 1.60), (0.71, 1.53), (0.41, 1.52), (0.18, 1.43),
    (-0.62, 1.37), (2.35, 1.35), (0.41, 1.34), (-0.54, 1.25), (0.30, 1.25), (1.53, 1.25), (0.31, 1.15), (-0.65, 1.02),
    (0.08, 1.0), (0.22, 1.04), (0.41, 1.01), (1.0, 1.05), (0.61, 0.87), (-0.04, 0.80), (0.46, 0.76), (0.44, 0.64),
    (0.64, 0.64), (1.0, 0.66), (0.52, 0.50), (-0.41, 0.38), (0.94, 0.38), (-0.22, 0.41), (-0.29, 0.32), (-0.57, -0.01),
    (1.45, 0.0), (0.0, -0.06), (0.06, -0.10), (0.03, -0.61),
]

# ---------------- Styling ----------------
W, H = 685, 996
FONT = "Open Sans"
TICKC = "#444444"
TITLEC = "#222222"
green_pt, blue_pt, orange_pt, mag_pt = "#33c933", "#3a3aff", "#ef6b1e", "#cc33dd"
green_ln, blue_ln, orange_ln, mag_ln = "#62d162", "#5858f2", "#ea7a38", "#d253e4"


def px_dom_x(a, b):
    return [a / W, b / W]


def px_dom_y(top, bottom):
    return [1 - bottom / H, 1 - top / H]


def fmt(v):
    return "%g" % v


fig = go.Figure()

# ---- Panel A ----
a_pts = [a_pts_0, a_pts_36, a_pts_48, a_pts_60]
a_pcol = [green_pt, blue_pt, orange_pt, mag_pt]
a_lcol = [green_ln, blue_ln, orange_ln, mag_ln]
for i in range(4):
    fig.add_trace(go.Box(y=a_pts[i], x0=i, boxpoints="all", jitter=0.5, pointpos=0, width=0.75,
                         line=dict(width=0), fillcolor="rgba(0,0,0,0)",
                         marker=dict(size=2.6, color=a_pcol[i], opacity=0.85),
                         xaxis="x", yaxis="y", showlegend=False, hoverinfo="y"))
    fig.add_trace(go.Box(x=[i], q1=[a_q1[i]], median=[a_median[i]], q3=[a_q3[i]],
                         lowerfence=[a_low[i]], upperfence=[a_high[i]], width=0.75, boxpoints=False,
                         line=dict(color=a_lcol[i], width=1.6), fillcolor="rgba(0,0,0,0)",
                         xaxis="x", yaxis="y", showlegend=False))

# ---- Panel B ----
b_pts = [b_pts_1, b_pts_2, b_pts_3, b_pts_4, b_pts_5, b_pts_6, b_pts_7, b_pts_8]
b_pcol = [green_pt, green_pt, blue_pt, blue_pt, orange_pt, orange_pt, mag_pt, mag_pt]
b_lcol = ["#8edc8e", "#7ed67e", blue_ln, "#6e6ef0", "#eea070", orange_ln, mag_ln, "#dc7ae8"]
for i in range(8):
    fig.add_trace(go.Box(y=b_pts[i], x0=i, boxpoints="all", jitter=0.5, pointpos=0, width=0.75,
                         line=dict(width=0), fillcolor="rgba(0,0,0,0)",
                         marker=dict(size=2.4, color=b_pcol[i], opacity=0.85),
                         xaxis="x2", yaxis="y2", showlegend=False, hoverinfo="y"))
    fig.add_trace(go.Box(x=[i], q1=[b_q1[i]], median=[b_median[i]], q3=[b_q3[i]],
                         lowerfence=[b_low[i]], upperfence=[b_high[i]], width=0.75, boxpoints=False,
                         line=dict(color=b_lcol[i], width=1.6), fillcolor="rgba(0,0,0,0)",
                         xaxis="x2", yaxis="y2", showlegend=False))

# ---- Panel C ----
fig.add_trace(go.Scatter(x=[p[0] for p in c_pts], y=[p[1] for p in c_pts], mode="markers",
                         marker=dict(size=3, color="#111111"), xaxis="x3", yaxis="y3", showlegend=False))

# ---- Panel D ----
fig.add_trace(go.Scatter(x=[p[0] for p in d_grey], y=[p[1] for p in d_grey], mode="markers",
                         marker=dict(size=5, color="#c3cbcb"), xaxis="x4", yaxis="y4", showlegend=False))
fig.add_trace(go.Scatter(x=[p[0] for p in d_black], y=[p[1] for p in d_black], mode="markers",
                         marker=dict(size=5, color="#000000"), xaxis="x4", yaxis="y4", showlegend=False))
fig.add_trace(go.Scatter(x=[p[0] for p in d_red], y=[p[1] for p in d_red], mode="markers",
                         marker=dict(size=5, color="#ff0000"), xaxis="x4", yaxis="y4", showlegend=False))

# ---- Panel E ----
fig.add_trace(go.Scatter(x=[p[0] for p in e_pts], y=[p[1] for p in e_pts], mode="markers",
                         marker=dict(size=3, color="#111111"), xaxis="x5", yaxis="y5", showlegend=False))

# ---- Panel F ----
fig.add_trace(go.Scatter(x=[p[0] for p in f_pts], y=[p[1] for p in f_pts], mode="markers",
                         marker=dict(size=5, color="#000000"), xaxis="x6", yaxis="y6", showlegend=False))


def axis(domain, rng, tickvals, ticktext=None, tsize=10, linecolor="#444444", anchor=None, ticklen=3, standoff=0):
    return dict(domain=domain, range=rng, showline=True, mirror=True, linecolor=linecolor, linewidth=1.5,
                ticks="outside" if ticklen > 0 else "", ticklen=max(ticklen, 1), tickwidth=1, tickcolor=linecolor,
                showgrid=False, zeroline=False,
                tickvals=tickvals, ticktext=ticktext if ticktext is not None else [fmt(v) for v in tickvals],
                tickfont=dict(family=FONT, size=tsize, color=TICKC), anchor=anchor, fixedrange=True,
                ticklabelstandoff=standoff)


layout = dict(
    width=W, height=H, margin=dict(l=0, r=0, t=0, b=0), paper_bgcolor="white", plot_bgcolor="white",
    boxmode="overlay", showlegend=False,
    # A
    xaxis=axis(px_dom_x(43, 325), [-0.6, 3.59], [0, 1, 2, 3], a_labels, 12, "#555555", "y", 3, -4),
    yaxis=axis(px_dom_y(27, 304), [-0.72, 7.05], [0, 2, 4, 6], None, 12, "#555555", "x", 3, 1),
    # B
    xaxis2=axis(px_dom_x(392, 672), [-0.58, 7.58], list(range(8)), b_labels, 12, "#555555", "y2", 3, -4),
    yaxis2=axis(px_dom_y(27, 304), [-0.86, 7.16], [0, 2, 4, 6], None, 12, "#555555", "x2", 3, 1),
    # C
    xaxis3=axis(px_dom_x(47, 319), [-2.07, 2.41], [-2, -1, 0, 1, 2], None, 9, "#7a7a7a", "y3", 3, -4),
    yaxis3=axis(px_dom_y(376, 635), [-2.11, 9.0], [-2, 0, 2, 4, 6, 8], None, 9, "#7a7a7a", "x3", 3, 2),
    # D
    xaxis4=axis(px_dom_x(391, 671), [-1.5, 6.76], [0, 2, 4, 6], None, 9, "#333333", "y4", 3, -4),
    yaxis4=axis(px_dom_y(375, 636), [-6.91, 7.37], [-6, -4, -2, 0, 2, 4, 6], None, 9, "#333333", "x4", 3, 0),
    # E
    xaxis5=axis(px_dom_x(49, 320), [-6.93, 7.41], [-6, -4, -2, 0, 2, 4, 6], None, 10, "#222222", "y5", 0, -2),
    yaxis5=axis(px_dom_y(700, 961), [-2.21, 9.0], [-2, 0, 2, 4, 6, 8], None, 10, "#222222", "x5", 2, 0),
    # F
    xaxis6=axis(px_dom_x(398, 666), [-0.79, 2.49], [-0.5, 0, 0.5, 1, 1.5, 2], None, 9, "#333333", "y6", 0, -2),
    yaxis6=axis(px_dom_y(702, 959), [-0.77, 3.54], [0, 1, 2, 3], None, 9, "#333333", "x6", 2, 0),
)
fig.update_layout(**layout)

# axis titles (text, centre x px, centre y px, rotation, size)
axis_titles = [
    ("Time after PH (hours)", 184, 337, 0, 13),
    ("H3K4me3 score (log2 ratio)", 18, 165, -90, 13),
    ("Time after PH (hours)", 532, 337, 0, 13),
    ("RPB2 score (log2 ratio)", 368, 165, -90, 13),
    ("H3K4me3 fold change", 183, 661, 0, 13),
    ("RPC4 T statistic", 27, 505, -90, 12.5),
    ("RPB2 TP0 average score", 531, 661, 0, 13),
    ("T Statistic", 362, 505, -90, 12.5),
    ("RPB2 T statistic", 184, 983, 0, 13.5),
    ("RPC4 T statistic", 30, 830, -90, 13.5),
    ("RPB2 fold change", 532, 983, 0, 13),
    ("RPC4 T statistic", 378, 830, -90, 13),
]
for text, tx, ty, rot, size in axis_titles:
    fig.add_annotation(text=text, x=tx / W, y=1 - ty / H, xref="paper", yref="paper",
                       xanchor="center", yanchor="middle", showarrow=False, textangle=rot,
                       font=dict(family=FONT, size=size, color=TITLEC))

panel_letters = [("A", 12, 10), ("B", 357, 12), ("C", 12, 357), ("D", 371, 361), ("E", 12, 686), ("F", 371, 690)]
for letter, lx, ly in panel_letters:
    fig.add_annotation(text="<b>%s</b>" % letter, x=lx / W, y=1 - ly / H, xref="paper", yref="paper",
                       xanchor="center", yanchor="middle", showarrow=False,
                       font=dict(family="Liberation Sans", size=17, color="#111111"))

fig.write_html("out.html")
